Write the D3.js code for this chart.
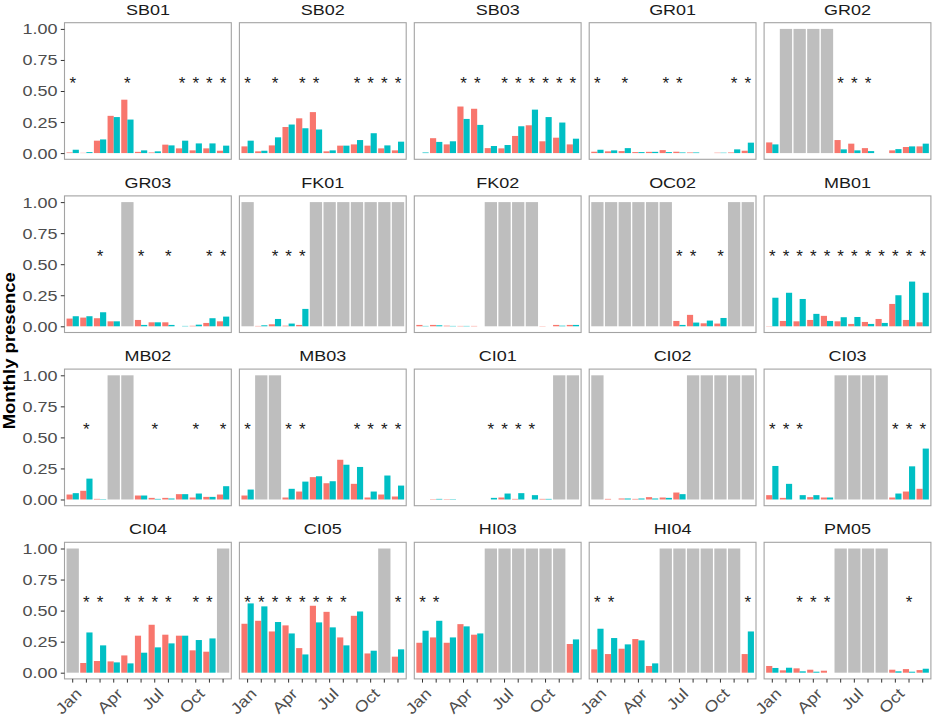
<!DOCTYPE html>
<html>
<head>
<meta charset="utf-8">
<script src="https://cdn.jsdelivr.net/npm/d3@7"></script>
<style>
  body { margin: 0; background: #fff; }
  text { font-family: "Liberation Sans", Arial, sans-serif; }
</style>
</head>
<body>
<div id="chart"></div>
<script>
// sites in facet order (5 per row)
const sites = ["SB01", "SB02", "SB03", "GR01", "GR02",
               "GR03", "FK01", "FK02", "OC02", "MB01",
               "MB02", "MB03", "CI01", "CI02", "CI03",
               "CI04", "CI05", "HI03", "HI04", "PM05"];
const months = ["Jan", "Feb", "Mar", "Apr", "May", "Jun", "Jul", "Aug", "Sep", "Oct", "Nov", "Dec"];
const monthLabels = ["Jan", "", "", "Apr", "", "", "Jul", "", "", "Oct", "", ""];
const yTicks = [0, 0.25, 0.5, 0.75, 1];

// null = month not sampled (drawn as grey bar)
const redVals = [
  [0.005, 0.002, 0.10, 0.30, 0.43, 0.01, 0.005, 0.068, 0.038, 0.022, 0.038, 0.019],
  [0.054, 0.014, 0.062, 0.21, 0.28, 0.33, 0.014, 0.06, 0.07, 0.06, 0.038, 0.022],
  [0, 0.12, 0.07, 0.375, 0.357, 0.04, 0.038, 0.138, 0.224, 0.095, 0.124, 0.07],
  [0.011, 0.014, 0.016, 0.008, 0.01, 0.024, 0.011, 0.005, 0, 0.003, 0.005, 0.019],
  [0.086, null, null, null, null, 0.105, 0.076, 0.04, 0, 0.022, 0.049, 0.054],
  [0.062, 0.07, 0.065, 0.04, null, 0.051, 0.032, 0.032, 0, 0.004, 0.027, 0.04],
  [null, 0.003, 0.016, 0.005, 0.011, null, null, null, null, null, null, null],
  [0.011, 0.011, 0.005, 0.003, 0.003, null, null, null, null, 0.002, 0.011, 0.011],
  [null, null, null, null, null, null, 0.043, 0.092, 0.024, 0.022, null, null],
  [0.002, 0.043, 0.04, 0.051, 0.084, 0.04, 0.019, 0.035, 0.059, 0.18, 0.051, 0.032],
  [0.04, 0.07, 0.005, null, null, 0.032, 0.013, 0.013, 0.043, 0.016, 0.021, 0.04],
  [0.032, null, null, 0.016, 0.064, 0.18, 0.131, 0.32, 0.126, 0.016, 0.04, 0.024],
  [0, 0.003, 0.003, 0, 0, 0, 0.016, 0.005, 0, 0.005, null, null],
  [null, 0.005, 0.008, 0.005, 0.019, 0.016, 0.056, null, null, null, null, null],
  [0.035, 0.013, 0, 0.019, 0.016, null, null, null, null, 0.016, 0.064, 0.086],
  [null, 0.078, 0.094, 0.091, 0.139, 0.298, 0.386, 0.306, 0.298, 0.18, 0.169, null],
  [0.394, 0.418, 0.332, 0.381, 0.198, 0.539, 0.49, 0.284, 0.458, 0.155, null, 0.129],
  [0.241, 0.284, 0.241, 0.391, 0.306, null, null, null, null, null, null, 0.231],
  [0.188, 0.15, 0.193, 0.271, 0.054, null, null, null, null, null, null, 0.15],
  [0.054, 0.019, 0.035, 0.024, 0.016, null, null, null, null, 0.024, 0.029, 0.021]
];
const tealVals = [
  [0.027, 0.008, 0.11, 0.29, 0.27, 0.022, 0.014, 0.062, 0.10, 0.078, 0.078, 0.06],
  [0.10, 0.019, 0.127, 0.23, 0.20, 0.19, 0.022, 0.06, 0.105, 0.16, 0.062, 0.092],
  [0.005, 0.09, 0.095, 0.275, 0.227, 0.057, 0.065, 0.216, 0.35, 0.29, 0.246, 0.116],
  [0.027, 0.022, 0.04, 0.008, 0.01, 0.008, 0.005, 0.005, 0, 0.003, 0.03, 0.084],
  [0.07, null, null, null, null, 0.03, 0.022, 0.016, 0, 0.032, 0.054, 0.076],
  [0.081, 0.081, 0.113, 0.04, null, 0.011, 0.032, 0.011, 0.003, 0.013, 0.065, 0.078],
  [null, 0.008, 0.059, 0.022, 0.14, null, null, null, null, null, null, null],
  [0.003, 0.008, 0.003, 0.003, 0, null, null, null, null, 0, 0.005, 0.011],
  [null, null, null, null, null, null, 0.011, 0.03, 0.046, 0.067, null, null],
  [0.23, 0.27, 0.22, 0.10, 0.043, 0.073, 0.075, 0.019, 0.027, 0.25, 0.36, 0.27],
  [0.051, 0.168, 0.003, null, null, 0.032, 0.005, 0.008, 0.043, 0.048, 0.021, 0.107],
  [0.08, null, null, 0.086, 0.144, 0.187, 0.147, 0.28, 0.262, 0.064, 0.193, 0.112],
  [0, 0.005, 0.003, 0, 0, 0.013, 0.048, 0.051, 0.035, 0.005, null, null],
  [null, 0, 0.008, 0.008, 0.008, 0.013, 0.043, null, null, null, null, null],
  [0.27, 0.126, 0.035, 0.035, 0.016, null, null, null, null, 0.048, 0.267, 0.41],
  [null, 0.324, 0.22, 0.083, 0.075, 0.161, 0.204, 0.236, 0.298, 0.263, 0.276, null],
  [0.558, 0.534, 0.408, 0.316, 0.147, 0.405, 0.365, 0.22, 0.493, 0.177, null, 0.188],
  [0.338, 0.418, 0.284, 0.373, 0.316, null, null, null, null, null, null, 0.268],
  [0.354, 0.279, 0.228, 0.26, 0.075, null, null, null, null, null, null, 0.332],
  [0.038, 0.04, 0.011, 0.008, 0, null, null, null, null, 0.011, 0.008, 0.032]
];
// months (1-12) marked with an asterisk
const starMonths = [
  [1, 5, 9, 10, 11, 12], [1, 3, 5, 6, 9, 10, 11, 12], [4, 5, 7, 8, 9, 10, 11, 12], [1, 3, 6, 7, 11, 12], [6, 7, 8],
  [3, 6, 8, 11, 12], [3, 4, 5], [], [7, 8, 10], [1, 2, 3, 4, 5, 6, 7, 8, 9, 10, 11, 12],
  [2, 7, 10, 12], [1, 4, 5, 9, 10, 11, 12], [6, 7, 8, 9], [], [1, 2, 3, 10, 11, 12],
  [2, 3, 5, 6, 7, 8, 10, 11], [1, 2, 3, 4, 5, 6, 7, 8, 12], [1, 2], [1, 2, 12], [3, 4, 5, 11]
];

const width = 941, height = 718;
const left0 = 64.5, top0 = 22.7;
const pw = 166.8, ph = 136.6, colStep = 174.9, rowStep = 173.2;
const txtScale = 1.16;
const colors = { red: "#F8766D", teal: "#00BFC4", grey: "#BEBEBE" };

const svg = d3.select("#chart").append("svg")
    .attr("width", width)
    .attr("height", height);

const x = d3.scaleBand().domain(months).range([0, pw]).paddingInner(0.1).paddingOuter(0.15);
const xs = d3.scaleBand().domain(["red", "teal"]).range([0, x.bandwidth()]);
const y = d3.scaleLinear().domain([-0.05, 1.05]).range([ph, 0]);

sites.forEach((site, i) => {
    const col = i % 5, row = Math.floor(i / 5);
    const g = svg.append("g")
        .attr("transform", `translate(${left0 + col * colStep},${top0 + row * rowStep})`);

    // strip title
    g.append("text")
        .attr("transform", `translate(${pw / 2},-8) scale(${txtScale},1)`)
        .attr("text-anchor", "middle")
        .style("font-size", "15.5px")
        .style("fill", "#1a1a1a")
        .text(site);

    // grey bars for months without data
    g.selectAll("rect.grey")
        .data(months.filter((m, k) => redVals[i][k] === null))
        .enter().append("rect")
        .attr("x", (m) => x(m))
        .attr("width", x.bandwidth())
        .attr("y", y(1))
        .attr("height", y(0) - y(1))
        .attr("fill", colors.grey);

    const bars = [];
    months.forEach((m, k) => {
        if (redVals[i][k] !== null) {
            bars.push({ m: m, s: "red", v: redVals[i][k] });
            bars.push({ m: m, s: "teal", v: tealVals[i][k] });
        }
    });
    g.selectAll("rect.bar")
        .data(bars)
        .enter().append("rect")
        .attr("x", (d) => x(d.m) + xs(d.s))
        .attr("width", xs.bandwidth())
        .attr("y", (d) => y(d.v))
        .attr("height", (d) => y(0) - y(d.v))
        .attr("fill", (d) => colors[d.s]);

    // asterisks
    g.selectAll("text.star")
        .data(starMonths[i])
        .enter().append("text")
        .attr("x", (d) => x(months[d - 1]) + x.bandwidth() / 2)
        .attr("y", y(0.6) + 10)
        .attr("text-anchor", "middle")
        .style("font-size", "17px")
        .style("fill", "#1a1a1a")
        .text("*");

    // panel border
    g.append("rect")
        .attr("width", pw)
        .attr("height", ph)
        .attr("fill", "none")
        .attr("stroke", "#a3a3a3")
        .attr("stroke-width", 1.1);

    if (col === 0) {
        const yAxis = g.append("g")
            .call(d3.axisLeft(y).tickValues(yTicks).tickFormat(d3.format(".2f")).tickSize(3.7));
        yAxis.select(".domain").remove();
        yAxis.selectAll(".tick line").attr("stroke", "#333");
        yAxis.selectAll(".tick text")
            .attr("x", 0)
            .attr("transform", `translate(-7,0) scale(${txtScale},1)`)
            .style("font-size", "15.5px")
            .style("font-family", "'Liberation Sans', Arial, sans-serif")
            .style("fill", "#4d4d4d");
    }
    if (row === 3) {
        const xAxis = g.append("g")
            .attr("transform", `translate(0,${ph})`)
            .call(d3.axisBottom(x).tickFormat((d, k) => monthLabels[k]).tickSize(3.7));
        xAxis.select(".domain").remove();
        xAxis.selectAll(".tick line").attr("stroke", "#333");
        xAxis.selectAll(".tick text")
            .attr("x", 0)
            .attr("y", 0)
            .attr("dy", "0.72em")
            .attr("text-anchor", "end")
            .attr("transform", `translate(2,8) rotate(-45) scale(${txtScale},1)`)
            .style("font-size", "15.5px")
            .style("font-family", "'Liberation Sans', Arial, sans-serif")
            .style("fill", "#4d4d4d");
    }
});

// y axis title
svg.append("text")
    .attr("transform", `translate(15.2,${top0 + (3 * rowStep + ph) / 2}) rotate(-90) scale(1.087,1)`)
    .attr("text-anchor", "middle")
    .style("font-size", "17px")
    .style("font-weight", "bold")
    .style("fill", "#000")
    .text("Monthly presence");
</script>
</body>
</html>
